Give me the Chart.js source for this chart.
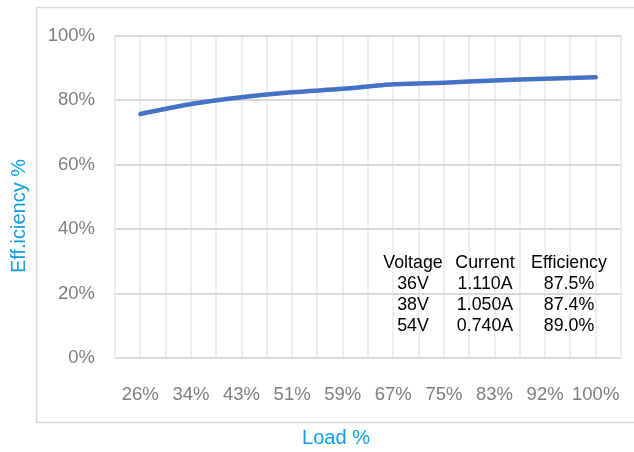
<!DOCTYPE html>
<html>
<head>
<meta charset="utf-8">
<script src="https://cdn.jsdelivr.net/npm/chart.js@4"></script>
<style>
  html, body { margin: 0; padding: 0; background: #ffffff; }
  #wrap { width: 634px; height: 452px; }
</style>
</head>
<body>
<div id="wrap"><canvas id="effChart" width="634" height="452"></canvas></div>
<script>
/* --------------- Data --------------- */
const loadLabels = ["26%", "34%", "43%", "51%", "59%", "67%", "75%", "83%", "92%", "100%"];
const efficiency = [75.8, 78.9, 81.0, 82.5, 83.6, 85.0, 85.5, 86.2, 86.7, 87.2];
const yTicks = [0, 20, 40, 60, 80, 100];

const xTitle = "Load %";
const yTitle = "Eff.iciency %";

/* --------------- Inset table --------------- */
const tableHeader = ["Voltage", "Current", "Efficiency"];
const tableVoltage = ["36V", "38V", "54V"];
const tableCurrent = ["1.110A", "1.050A", "0.740A"];
const tableEff = ["87.5%", "87.4%", "89.0%"];

const titleColor = "#0ea0e4";
const tickColor = "#7f7f7f";
const tickFont = "'Liberation Sans', Arial, sans-serif";
const textFont = "'Liberation Sans', Arial, sans-serif";

/* frame, titles and table drawn on the canvas */
const decorPlugin = {
  id: "decor",
  beforeDraw(chart) {
    const ctx = chart.ctx;
    ctx.save();
    ctx.strokeStyle = "#d9d9d9";
    ctx.lineWidth = 1.5;
    ctx.strokeRect(36.5, 7.5, 640, 415);
    ctx.restore();
  },
  afterDraw(chart) {
    const ctx = chart.ctx;
    ctx.save();
    // axis titles
    ctx.fillStyle = titleColor;
    ctx.font = "20px " + textFont;
    ctx.textAlign = "center";
    ctx.textBaseline = "middle";
    ctx.fillText(xTitle, 336, 438);
    ctx.translate(19, 216);
    ctx.rotate(-Math.PI / 2);
    ctx.fillText(yTitle, 0, 0);
    ctx.restore();

    // table
    ctx.save();
    ctx.fillStyle = "#000000";
    ctx.font = "17.8px " + textFont;
    ctx.textAlign = "center";
    ctx.textBaseline = "middle";
    const cols = [413, 485, 569];
    const rows = [263, 284, 305, 326];
    tableHeader.forEach((h, i) => ctx.fillText(h, cols[i], rows[0]));
    for (let r = 0; r < tableVoltage.length; r++) {
      ctx.fillText(tableVoltage[r], cols[0], rows[r + 1]);
      ctx.fillText(tableCurrent[r], cols[1], rows[r + 1]);
      ctx.fillText(tableEff[r], cols[2], rows[r + 1]);
    }
    ctx.restore();
  }
};

const points = efficiency.map((v, i) => ({ x: i, y: v }));

new Chart(document.getElementById("effChart"), {
  type: "line",
  plugins: [decorPlugin],
  data: {
    datasets: [{
      data: points,
      borderColor: "#4472c4",
      borderWidth: 4.5,
      borderCapStyle: "round",
      pointRadius: 0,
      tension: 0.25,
      fill: false
    }]
  },
  options: {
    responsive: false,
    animation: false,
    layout: { padding: { left: 0, right: 13, top: 36, bottom: 0 } },
    plugins: {
      legend: { display: false },
      tooltip: { enabled: false }
    },
    scales: {
      x: {
        type: "linear",
        min: -0.5,
        max: 9.5,
        afterBuildTicks(scale) {
          const t = [];
          for (let i = 0; i <= 20; i++) t.push({ value: -0.5 + i * 0.5 });
          scale.ticks = t;
        },
        afterFit(scale) {
          scale.height = 94;
          scale.paddingLeft = 0;
          scale.paddingRight = 0;
        },
        grid: { color: "#eeeeee", lineWidth: 2, drawTicks: false },
        border: { display: false },
        ticks: {
          autoSkip: false,
          maxRotation: 0,
          padding: 26,
          color: tickColor,
          font: { family: tickFont, size: 18.5 },
          callback: (v) => Number.isInteger(v) ? loadLabels[v] : ""
        }
      },
      y: {
        min: 0,
        max: 100,
        afterBuildTicks(scale) {
          scale.ticks = yTicks.map((v) => ({ value: v }));
        },
        afterFit(scale) { scale.width = 115; },
        grid: { color: "#d9d9d9", lineWidth: 2, drawTicks: false },
        border: { display: false },
        ticks: {
          padding: 20,
          color: tickColor,
          font: { family: tickFont, size: 18.5 },
          callback: (v) => v + "%"
        }
      }
    }
  }
});
</script>
</body>
</html>
